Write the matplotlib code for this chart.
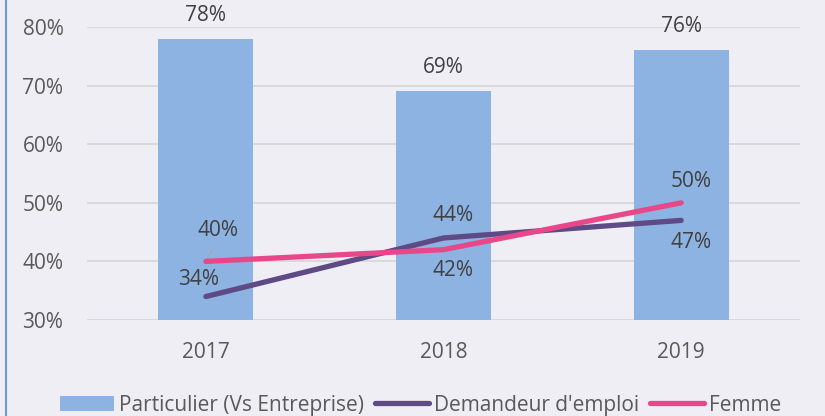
import matplotlib.pyplot as plt
from matplotlib.patches import Patch
from matplotlib.lines import Line2D

years = ['2017', '2018', '2019']
particulier = [78, 69, 76]
demandeur = [34, 44, 47]
femme = [40, 42, 50]
y_ticks = [30, 40, 50, 60, 70, 80]

bar_color = '#8db3e2'
purple = '#5e4a84'
pink = '#e8488a'
text_color = '#404040'
bg = '#efeef4'
fs = 15

plt.rcParams['font.family'] = ['Open Sans', 'DejaVu Sans']

fig = plt.figure(figsize=(8.25, 4.16), dpi=100, facecolor=bg)
ax = fig.add_axes([0.1055, 0.2308, 0.8642, 0.7042])
ax.set_facecolor(bg)

x = list(range(len(years)))
ax.bar(x, particulier, width=0.4, color=bar_color, zorder=2)
ax.plot(x, demandeur, color=purple, lw=3.8, solid_capstyle='round', zorder=3)
ax.plot(x, femme, color=pink, lw=3.8, solid_capstyle='round', zorder=4)

ax.set_xlim(-0.5, 2.5)
ax.set_ylim(30, 80)
ax.set_yticks(y_ticks)
ax.set_yticklabels(['%d%%' % v for v in y_ticks])
ax.set_xticks(x)
ax.set_xticklabels(years)
ax.tick_params(length=0, labelsize=fs, colors='#595959')
ax.tick_params(axis='y', pad=17)
ax.tick_params(axis='x', pad=16)
ax.grid(axis='y', color='#d9d9d9', lw=1.4, zorder=0)
for s in ax.spines.values():
    s.set_visible(False)

# bar labels
for i, v in enumerate(particulier):
    ax.annotate('%d%%' % v, (i, v), xytext=(0, 17), textcoords='offset points',
                ha='center', va='center', fontsize=fs, color=text_color,
                annotation_clip=False)

# line labels
dem_off = [(-5, 12), (7, 16), (7, -16)]
fem_off = [(8.5, 22), (7, -15), (7, 15)]
for i, v in enumerate(demandeur):
    ax.annotate('%d%%' % v, (i, v), xytext=dem_off[i], textcoords='offset points',
                ha='center', va='center', fontsize=fs, color=text_color, zorder=5)
for i, v in enumerate(femme):
    ax.annotate('%d%%' % v, (i, v), xytext=fem_off[i], textcoords='offset points',
                ha='center', va='center', fontsize=fs, color=text_color, zorder=5)
ax.annotate('', (0, femme[0]), xytext=(0.027, femme[0] + 2.1),
            arrowprops=dict(arrowstyle='-', color='#a6a6a6', lw=0.8,
                            shrinkA=0, shrinkB=2))

handles = [Patch(facecolor=bar_color, edgecolor='none'),
           Line2D([], [], color=purple, lw=3.8, solid_capstyle='round'),
           Line2D([], [], color=pink, lw=3.8, solid_capstyle='round')]
labels = ['Particulier (Vs Entreprise)', "Demandeur d'emploi", 'Femme']
fig.legend(handles, labels, loc='center', bbox_to_anchor=(0.51, 0.026), ncol=3,
           frameon=False, fontsize=fs, handlelength=2.6, handletextpad=0.25,
           columnspacing=0.5, labelcolor='#595959')

# left border
fig.add_artist(Line2D([0.007, 0.007], [0, 1], transform=fig.transFigure,
                      color='#6d9ad6', lw=1.5))

fig.savefig('out.png', dpi=100, facecolor=bg)
